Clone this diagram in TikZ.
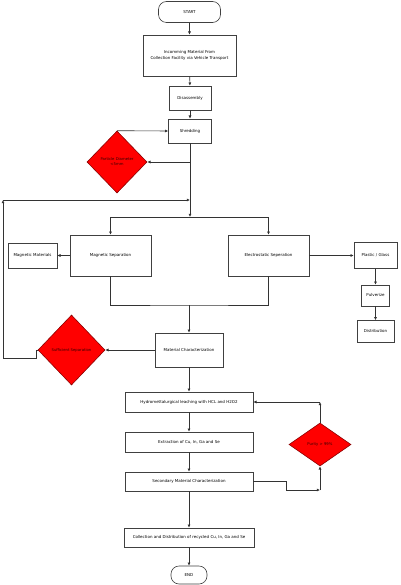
\documentclass[tikz,border=0pt]{standalone}
\usepackage{fontspec}
\setmainfont{DejaVu Sans}
\usetikzlibrary{shapes.geometric,arrows.meta}
\definecolor{dred}{HTML}{8B0000}
\tikzset{
  box/.style={draw=black!75, fill=white, line width=0.6pt, inner sep=0pt, align=center,
    font=\fontsize{4}{5.4}\selectfont},
  term/.style={box, rounded corners=8pt},
  dia/.style={diamond, draw=dred, fill=red, line width=0.6pt, inner sep=0pt, align=center,
    font=\fontsize{3.8}{5}\selectfont, text=black!80!red},
  conn/.style={draw=black!80, line width=0.6pt},
  arr/.style={conn, -{Latex[length=3.2pt,width=3pt]}},
}
\begin{document}
\begin{tikzpicture}[x=1pt,y=-1pt]
\useasboundingbox (0,0) rectangle (400,585);
\fill[white] (0,0) rectangle (400,585);
% nodes
\node[term, minimum width=62, minimum height=21] (start) at (189.5,12) {START};
\node[box, minimum width=93, minimum height=41] (inc) at (189.5,55.5) {Incomming Material From\\Collection Facility via Vehicle Transport};
\node[box, minimum width=42, minimum height=24] (dis) at (190,98) {Disassembly};
\node[box, minimum width=43, minimum height=24] (shr) at (190,131) {Shredding};
\node[dia, minimum width=60, minimum height=62] (pd) at (117,162) {Particle Diameter\\<5mm};
\node[box, minimum width=81, minimum height=41] (mag) at (110.5,255.5) {Magnetic Separation};
\node[box, minimum width=81, minimum height=41] (ele) at (268.5,255.5) {Electrostatic Seperation};
\node[box, minimum width=49, minimum height=25] (mm) at (32.5,255.5) {Magnetic Materials};
\node[box, minimum width=43, minimum height=26] (pg) at (375.5,255.5) {Plastic / Glass};
\node[box, minimum width=28, minimum height=21] (pul) at (375.5,295.5) {Pulverize};
\node[box, minimum width=37, minimum height=22] (dist) at (375.5,331.5) {Distribution};
\node[box, minimum width=68, minimum height=34] (mc) at (189,350) {Material Characterization};
\node[dia, minimum width=67, minimum height=70] (ss) at (71.5,350) {Sufficient Separation};
\node[box, minimum width=128, minimum height=20] (hyd) at (189,402) {Hydromettalurgical leaching with HCL and H2O2};
\node[box, minimum width=128, minimum height=20] (ext) at (189,442) {Extraction of Cu, In, Ga and Se};
\node[box, minimum width=128, minimum height=19] (sec) at (189,481.5) {Secondary Material Characterization};
\node[dia, minimum width=62, minimum height=43] (pur) at (320,444.5) {Purity > 99\%};
\node[box, minimum width=130, minimum height=19] (col) at (189,537.5) {Collection and Distribution of recycled Cu, In, Ga and Se};
\node[term, minimum width=36, minimum height=18] (end) at (189,575) {END};
% coordinates
\coordinate (sp) at (190,217);
\coordinate (fb0) at (36,350);
\coordinate (fb1) at (36,358);
\coordinate (fb2) at (3,358);
\coordinate (fb3) at (3,200);
\coordinate (fb4) at (190,200);
\coordinate (mg) at (189,305);
\coordinate (sc1) at (286,481.5);
\coordinate (sc2) at (286,490);
\coordinate (sc3) at (320,490);
\coordinate (pt) at (320,402);
% connectors
\draw[arr] (start) -- (inc);
\draw[arr] (inc) -- (dis);
\draw[arr] (dis) -- (shr);
\draw[arr] (pd.north) -- (shr.west);
\draw[arr] (shr.south) -- (sp);
\draw[arr] (shr.south |- pd.east) -- (pd.east);
\draw[arr] (sp) -| (mag.north);
\draw[arr] (sp) -| (ele.north);
\draw[arr] (mag.west) -- (mm.east);
\draw[arr] (ele.east) -- (pg.west);
\draw[arr] (pg) -- (pul);
\draw[arr] (pul) -- (dist);
\draw[conn] (mag.south) |- (mg) -| (ele.south);
\draw[arr] (mg) -- (mc.north);
\draw[arr] (mc.west) -- (ss.east);
\draw[arr] (ss.west) -- (fb0) -- (fb1) -- (fb2) -- (fb3);
\draw[arr] (fb3) -- (fb4);
\draw[arr] (mc) -- (hyd);
\draw[arr] (hyd) -- (ext);
\draw[arr] (ext) -- (sec);
\draw[arr] (sec) -- (col);
\draw[arr] (col) -- (end);
\draw[arr] (sec.east) -- (sc1) -- (sc2) -- (sc3);
\draw[arr] (sc3) -- (pur.south);
\draw[arr] (pur.north) -- (pt);
\draw[arr] (pt) -- (hyd.east);
\end{tikzpicture}
\end{document}
